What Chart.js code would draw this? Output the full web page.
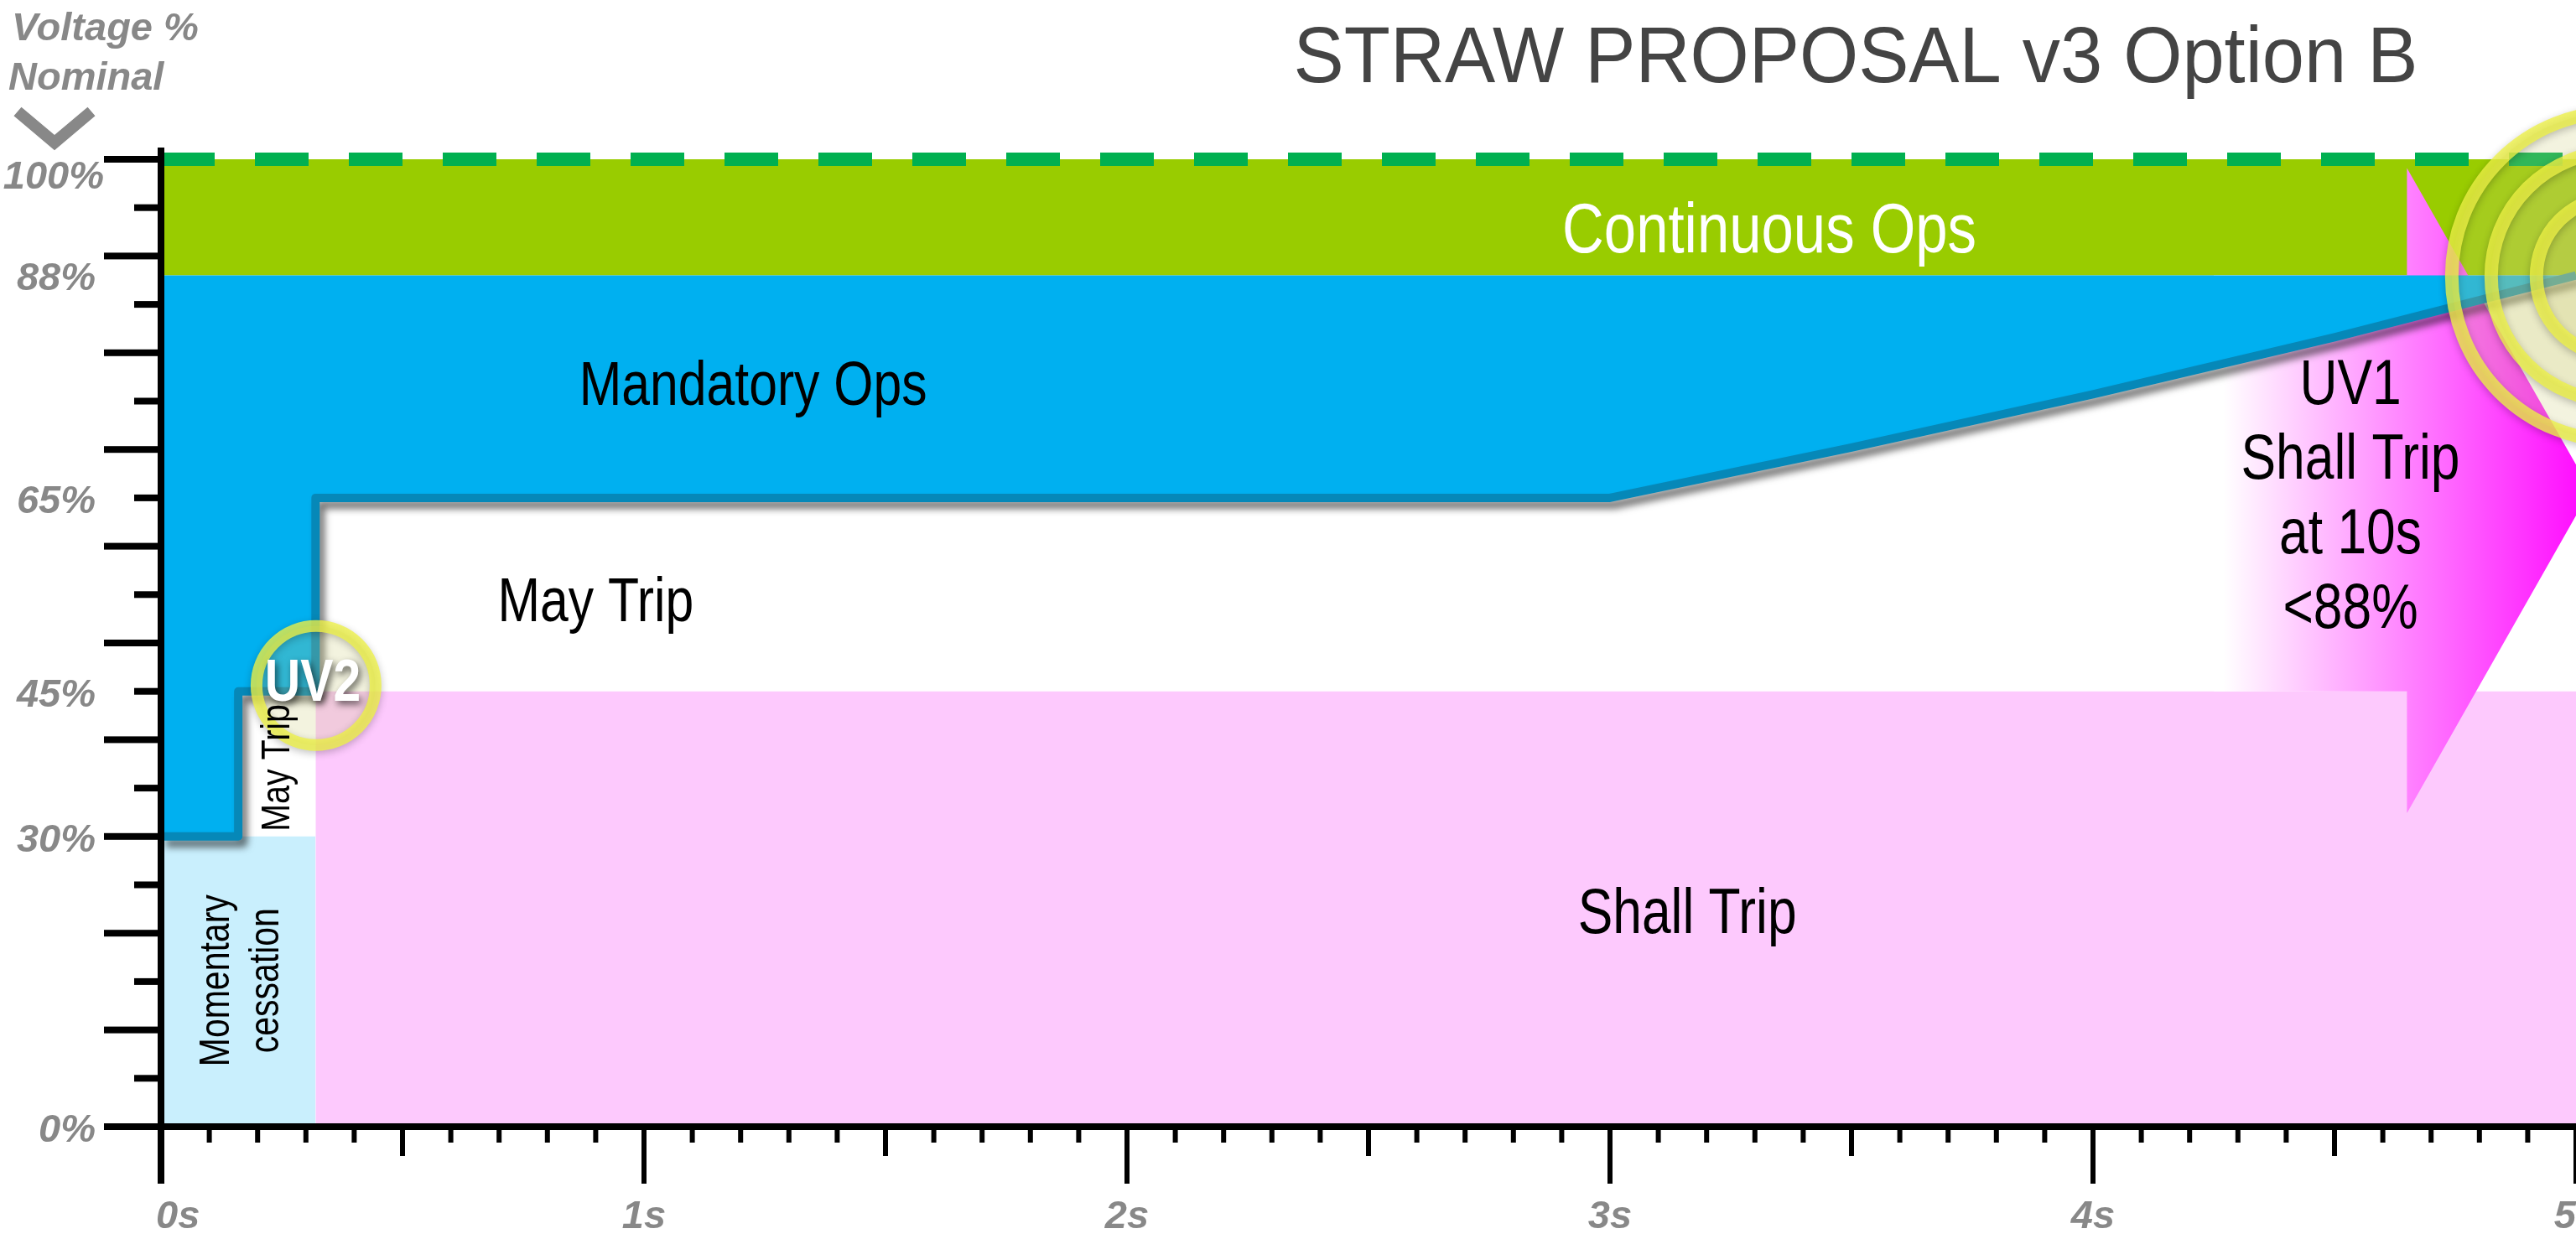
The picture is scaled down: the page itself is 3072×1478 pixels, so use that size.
<!DOCTYPE html>
<html>
<head>
<meta charset="utf-8">
<title>STRAW PROPOSAL v3 Option B</title>
<script src="https://cdn.jsdelivr.net/npm/chart.js@4.4.1/dist/chart.umd.min.js"></script>
<style>
  html, body { margin: 0; padding: 0; background: #fff; overflow: hidden; }
  canvas { display: block; }
</style>
</head>
<body>
<canvas id="chart" width="3072" height="1478"></canvas>
<script>
// axes: time in seconds, voltage in % of nominal
const timeTicks = [0, 1, 2, 3, 4, 5];
const timeLabels = ["0s", "1s", "2s", "3s", "4s", "5s"];
const voltTicks = [100, 88, 65, 45, 30, 0];
const voltLabels = ["100%", "88%", "65%", "45%", "30%", "0%"];

// lower edge of Mandatory Ops: UV2 step then the ramp back up to 88%
const rideThroughTime = [0, 0.16, 0.16, 0.32, 0.32, 3, 3.5, 4, 4.5, 5];
const rideThroughVolt = [30, 30, 45, 45, 65, 65, 70.2, 75.7, 81.6, 88];

// zone edges
const continuousTime = [0, 5];
const continuousVolt = [100, 100];
const continuousFloor = 88;
const shallTripTime = [0.32, 5];
const shallTripVolt = [45, 45];
const cessationTime = [0, 0.32];
const cessationVolt = [30, 30];
const nominalTime = [0, 5];
const nominalVolt = [100, 100];

// UV1 arrow outline
const arrowTime = [4.25, 4.25, 4.65, 4.65, 5.03, 4.65, 4.65];
const arrowVolt = [45, 88, 88, 99.1, 65.8, 32.4, 45];

const pts = (xs, ys) => xs.map((x, i) => ({ x: x, y: ys[i] }));

const FONT = "'Liberation Sans', Arial, Helvetica, sans-serif";
const GREY = "#888888";

// text placed in chart units (t = seconds, v = %)
const zoneText = [
  { lines: ["Continuous Ops"], t: 3.33, v: 90.4, size: 84, color: "#ffffff" },
  { lines: ["Mandatory Ops"], t: 1.226, v: 74.6, size: 74, color: "#000" },
  { lines: ["May Trip"], t: 0.9, v: 52.25, size: 74, color: "#000" },
  { lines: ["Shall Trip"], t: 3.16, v: 20, size: 76, color: "#000" },
  { lines: ["UV1", "Shall Trip", "at 10s", "<88%"], t: 4.533, v: 74.7, size: 76, lead: 89, color: "#000" },
  { lines: ["Momentary", "cessation"], t: 0.1406, v: 15.1, size: 50, lead: 59, color: "#000", rotate: true },
  { lines: ["May Trip"], t: 0.2656, v: 37.1, size: 48, color: "#000", rotate: true }
];

function arrowFill(context) {
  const chart = context.chart;
  if (!chart.chartArea) return "rgba(255,0,255,0.5)";
  const xs = chart.scales.x;
  const g = chart.ctx.createLinearGradient(xs.getPixelForValue(4.27), 0, xs.getPixelForValue(5.05), 0);
  g.addColorStop(0, "#ffffff");
  g.addColorStop(1, "#ff00ff");
  return g;
}

// drop shadow under the ride-through line
const lineShadow = {
  id: "lineShadow",
  beforeDatasetDraw(chart, args) {
    if (chart.data.datasets[args.index].label !== "Mandatory Ops") return;
    const ctx = chart.ctx;
    ctx.save();
    ctx.shadowColor = "rgba(0,0,0,0.55)";
    ctx.shadowBlur = 9;
    ctx.shadowOffsetX = 6;
    ctx.shadowOffsetY = 8;
  },
  afterDatasetDraw(chart, args) {
    if (chart.data.datasets[args.index].label !== "Mandatory Ops") return;
    chart.ctx.restore();
  }
};

function ring(ctx, cx, cy, r, w) {
  ctx.save();
  ctx.beginPath();
  ctx.arc(cx, cy, r, 0, Math.PI * 2);
  ctx.fillStyle = "rgba(205,205,120,0.24)";
  ctx.fill();
  ctx.shadowColor = "rgba(0,0,0,0.3)";
  ctx.shadowBlur = 10;
  ctx.shadowOffsetY = 3;
  ctx.lineWidth = w;
  ctx.strokeStyle = "rgba(238,242,70,0.78)";
  ctx.stroke();
  ctx.restore();
}

const decor = {
  id: "decor",
  beforeDraw(chart) {
    const ctx = chart.ctx;
    ctx.save();
    ctx.fillStyle = "#fff";
    ctx.fillRect(0, 0, chart.width, chart.height);
    ctx.restore();
  },
  afterDatasetsDraw(chart) {
    const ctx = chart.ctx;
    const x = chart.scales.x, y = chart.scales.y;

    // target rings
    ring(ctx, x.getPixelForValue(0.321), y.getPixelForValue(45.6), 71, 14);
    [196, 149, 95].forEach(r => ring(ctx, x.getPixelForValue(5.083), y.getPixelForValue(87.9), r, 16));

    // zone labels (narrow face)
    zoneText.forEach(z => {
      ctx.save();
      ctx.translate(x.getPixelForValue(z.t), y.getPixelForValue(z.v));
      if (z.rotate) ctx.rotate(-Math.PI / 2);
      ctx.scale(0.82, 1);
      ctx.font = z.size + "px " + FONT;
      ctx.fillStyle = z.color;
      ctx.textAlign = "center";
      ctx.textBaseline = "alphabetic";
      z.lines.forEach((line, i) => ctx.fillText(line, 0, i * (z.lead || 0)));
      ctx.restore();
    });

    // UV2 tag
    ctx.save();
    ctx.translate(x.getPixelForValue(0.3142), y.getPixelForValue(45.67));
    ctx.scale(0.84, 1);
    ctx.font = "bold 70px " + FONT;
    ctx.fillStyle = "#fff";
    ctx.textAlign = "center";
    ctx.textBaseline = "middle";
    ctx.shadowColor = "rgba(0,0,0,0.6)";
    ctx.shadowBlur = 8;
    ctx.shadowOffsetX = 3;
    ctx.shadowOffsetY = 4;
    ctx.fillText("UV2", 0, 0);
    ctx.restore();
  },
  afterDraw(chart) {
    const ctx = chart.ctx;
    const x = chart.scales.x, y = chart.scales.y;
    const x0 = x.getPixelForValue(0);
    const y0 = y.getPixelForValue(0);
    const yTop = y.getPixelForValue(100);
    ctx.save();
    ctx.fillStyle = "#000";

    // y ticks every 5%, long every 10%
    for (let v = 0; v <= 100; v += 5) {
      const p = y.getPixelForValue(v);
      const len = v % 10 === 0 ? 68 : 32;
      ctx.fillRect(x0 - len, p - 4, len, 8);
    }
    // x ticks every 0.1 s, longer at 0.5 s and 1 s
    for (let i = 0; i <= 50; i++) {
      const p = x.getPixelForValue(i / 10);
      const len = i % 10 === 0 ? 68 : (i % 5 === 0 ? 35 : 19);
      ctx.fillRect(p - 3, y0, 6, len);
    }
    // axis lines
    ctx.fillRect(x0 - 4, yTop - 14, 8, y0 + 68 - (yTop - 14));
    ctx.fillRect(x0 - 68, y0 - 4, chart.width, 8);

    // tick labels
    ctx.fillStyle = GREY;
    ctx.font = "italic bold 47px " + FONT;
    ctx.textBaseline = "middle";
    ctx.textAlign = "right";
    voltTicks.forEach((v, i) => {
      const top = v === 100;
      ctx.fillText(voltLabels[i], x0 - (top ? 68 : 78), y.getPixelForValue(v) + (top ? 22 : 5));
    });
    timeTicks.forEach((t, i) => {
      ctx.textAlign = i === 0 ? "left" : "center";
      const p = x.getPixelForValue(t);
      ctx.fillText(timeLabels[i], i === 0 ? p - 6 : p, y0 + 108);
    });

    // axis title + chevron
    ctx.textAlign = "left";
    ctx.textBaseline = "alphabetic";
    ctx.fillText("Voltage %", 14, 48);
    ctx.fillText("Nominal", 10, 107);
    ctx.strokeStyle = GREY;
    ctx.lineWidth = 14;
    ctx.lineJoin = "miter";
    ctx.beginPath();
    ctx.moveTo(21, 133);
    ctx.lineTo(65, 170);
    ctx.lineTo(109, 133);
    ctx.stroke();

    // chart title
    ctx.save();
    ctx.translate(2213, 98);
    ctx.scale(0.95, 1);
    ctx.font = "95px " + FONT;
    ctx.fillStyle = "#444";
    ctx.textAlign = "center";
    ctx.fillText("STRAW PROPOSAL v3 Option B", 0, 0);
    ctx.restore();

    ctx.restore();
  }
};

new Chart(document.getElementById("chart"), {
  type: "line",
  data: {
    datasets: [
      {
        label: "Nominal",
        data: pts(nominalTime, nominalVolt),
        borderColor: "#00b050",
        borderWidth: 16,
        borderDash: [64, 48],
        borderCapStyle: "butt",
        fill: false,
        clip: 12,
        order: 1
      },
      {
        label: "Mandatory Ops",
        data: pts(rideThroughTime, rideThroughVolt),
        borderColor: "#0688b8",
        borderWidth: 10,
        borderJoinStyle: "round",
        backgroundColor: "#00b0f0",
        fill: { value: continuousFloor },
        order: 2
      },
      {
        label: "UV1",
        data: pts(arrowTime, arrowVolt),
        borderWidth: 0,
        borderColor: "transparent",
        backgroundColor: arrowFill,
        fill: "shape",
        order: 3
      },
      {
        label: "Continuous Ops",
        data: pts(continuousTime, continuousVolt),
        borderWidth: 0,
        borderColor: "transparent",
        backgroundColor: "#99cc00",
        fill: { value: continuousFloor },
        order: 4
      },
      {
        label: "Shall Trip",
        data: pts(shallTripTime, shallTripVolt),
        borderWidth: 0,
        borderColor: "transparent",
        backgroundColor: "#fdc9fd",
        fill: "origin",
        order: 5
      },
      {
        label: "Momentary cessation",
        data: pts(cessationTime, cessationVolt),
        borderWidth: 0,
        borderColor: "transparent",
        backgroundColor: "#c9effd",
        fill: "origin",
        order: 6
      }
    ]
  },
  options: {
    responsive: false,
    animation: false,
    devicePixelRatio: 1,
    events: [],
    layout: { padding: { left: 192, right: 0, top: 190, bottom: 134 } },
    elements: {
      point: { radius: 0, hoverRadius: 0 },
      line: { tension: 0 }
    },
    scales: {
      x: { type: "linear", min: 0, max: 5, display: false },
      y: { type: "linear", min: 0, max: 100, display: false }
    },
    plugins: {
      legend: { display: false },
      tooltip: { enabled: false },
      title: { display: false }
    }
  },
  plugins: [lineShadow, decor]
});
</script>
</body>
</html>
